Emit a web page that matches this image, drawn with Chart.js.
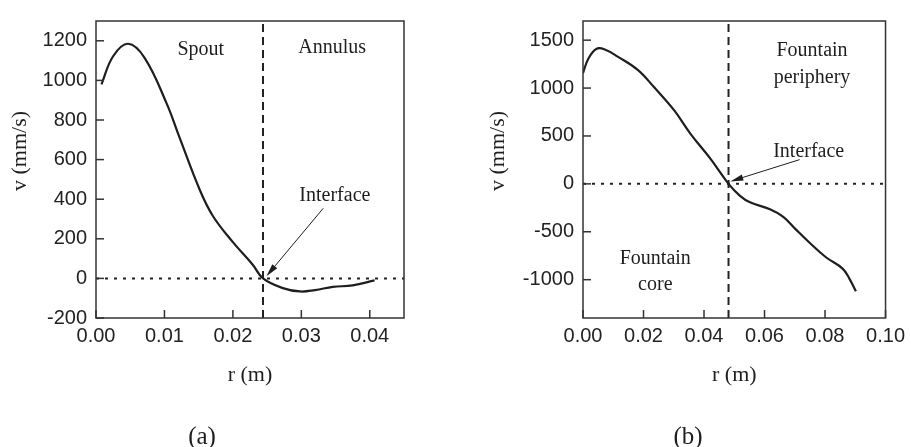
<!DOCTYPE html>
<html>
<head>
<meta charset="utf-8">
<script src="https://cdn.jsdelivr.net/npm/chart.js@4.4.1/dist/chart.umd.min.js"></script>
<style>
  body { margin: 0; background: #fff; }
  #wrap { position: relative; width: 911px; height: 447px; }
  canvas { position: absolute; top: 0; }
</style>
</head>
<body>
<div id="wrap">
  <canvas id="chartA" width="455" height="447" style="left:0"></canvas>
  <canvas id="chartB" width="456" height="447" style="left:455px"></canvas>
</div>
<script>
// (a) spout / annulus velocity profile
var rA = [0.0008, 0.0025, 0.0047, 0.0071, 0.0103, 0.0122, 0.0152, 0.0171, 0.0200,
          0.0229, 0.0244, 0.0273, 0.0298, 0.0320, 0.0346, 0.0375, 0.0407];
var vA = [980, 1122, 1185, 1114, 885, 712, 444, 314, 183,
          69, 0, -49, -66, -59, -43, -35, -10];
var interfaceA = 0.0244;
var xTicksA = [0, 0.01, 0.02, 0.03, 0.04];
var yTicksA = [-200, 0, 200, 400, 600, 800, 1000, 1200];

// (b) fountain core / periphery velocity profile
var rB = [0.0000, 0.0018, 0.0045, 0.0072, 0.0116, 0.0181, 0.0236, 0.0301, 0.0356, 0.0421,
          0.0481, 0.0519, 0.0552, 0.0618, 0.0662, 0.0705, 0.0749, 0.0803, 0.0858, 0.0880, 0.0902];
var vB = [1157, 1309, 1410, 1403, 1326, 1190, 1005, 769, 520, 263,
          0, -125, -193, -265, -344, -480, -614, -766, -884, -986, -1120];
var interfaceB = 0.0481;
var xTicksB = [0, 0.02, 0.04, 0.06, 0.08, 0.10];
var yTicksB = [-1000, -500, 0, 500, 1000, 1500];

// text labels, placed in data coordinates
var labelsA = [
  { text: 'Spout', r: 0.0153, v: 1155 },
  { text: 'Annulus', r: 0.0345, v: 1163 },
  { text: 'Interface', r: 0.0349, v: 418 }
];
var arrowA = { r0: 0.0332, v0: 354, r1: 0.0249, v1: 11 };

var labelsB = [
  { text: 'Fountain', r: 0.0757, v: 1390 },
  { text: 'periphery', r: 0.0757, v: 1106 },
  { text: 'Interface', r: 0.0746, v: 340 },
  { text: 'Fountain', r: 0.0239, v: -783 },
  { text: 'core', r: 0.0239, v: -1053 }
];
var arrowB = { r0: 0.0716, v0: 253, r1: 0.0487, v1: 26 };

var serif = '"Liberation Serif", "Times New Roman", serif';
var sans = '"Liberation Sans", Arial, sans-serif';
var ink = '#1e1e1e';

function toPoints(xs, ys) {
  return xs.map(function (x, i) { return { x: x, y: ys[i] }; });
}

var decorPlugin = {
  id: 'decor',
  afterDraw: function (chart) {
    var o = chart.options.plugins.decor;
    var ctx = chart.ctx, a = chart.chartArea;
    var xs = chart.scales.x, ys = chart.scales.y;
    ctx.save();
    ctx.strokeStyle = '#333';
    ctx.lineWidth = 1.5;
    // inward tick marks
    ys.ticks.forEach(function (t) {
      var y = ys.getPixelForValue(t.value);
      ctx.beginPath(); ctx.moveTo(a.left, y); ctx.lineTo(a.left + 8, y); ctx.stroke();
    });
    xs.ticks.forEach(function (t) {
      var x = xs.getPixelForValue(t.value);
      ctx.beginPath(); ctx.moveTo(x, a.bottom); ctx.lineTo(x, a.bottom - 8); ctx.stroke();
    });
    ctx.strokeRect(a.left, a.top, a.right - a.left, a.bottom - a.top);

    // annotations
    ctx.fillStyle = ink;
    ctx.textAlign = 'center';
    ctx.textBaseline = 'middle';
    ctx.font = '20px ' + serif;
    o.labels.forEach(function (l) {
      ctx.fillText(l.text, xs.getPixelForValue(l.r), ys.getPixelForValue(l.v));
    });

    // arrow
    var x0 = xs.getPixelForValue(o.arrow.r0), y0 = ys.getPixelForValue(o.arrow.v0);
    var x1 = xs.getPixelForValue(o.arrow.r1), y1 = ys.getPixelForValue(o.arrow.v1);
    var ang = Math.atan2(y1 - y0, x1 - x0);
    ctx.strokeStyle = ink;
    ctx.lineWidth = 1;
    ctx.beginPath(); ctx.moveTo(x0, y0);
    ctx.lineTo(x1 - 10 * Math.cos(ang), y1 - 10 * Math.sin(ang)); ctx.stroke();
    ctx.beginPath();
    ctx.moveTo(x1, y1);
    ctx.lineTo(x1 - 13 * Math.cos(ang) + 3.2 * Math.sin(ang), y1 - 13 * Math.sin(ang) - 3.2 * Math.cos(ang));
    ctx.lineTo(x1 - 13 * Math.cos(ang) - 3.2 * Math.sin(ang), y1 - 13 * Math.sin(ang) + 3.2 * Math.cos(ang));
    ctx.closePath(); ctx.fill();

    // axis titles and panel tag
    ctx.font = '22px ' + serif;
    ctx.fillText('r (m)', (a.left + a.right) / 2, 375);
    ctx.save();
    ctx.translate(a.left - o.yTitleOffset, 151);
    ctx.rotate(-Math.PI / 2);
    ctx.fillText('v (mm/s)', 0, 0);
    ctx.restore();
    ctx.font = '25px ' + serif;
    ctx.fillText(o.tag, o.tagX, 437);
    ctx.restore();
  }
};

function fixedTicks(list) {
  return function (s) { s.ticks = list.map(function (v) { return { value: v }; }); };
}

function makeChart(id, r, v, rIf, xMax, xTicks, yMin, yMax, yTicks, yWidth, padRight, deco) {
  return new Chart(document.getElementById(id), {
    type: 'line',
    data: {
      datasets: [
        {
          data: toPoints(r, v),
          borderColor: ink,
          borderWidth: 2.2,
          pointRadius: 0,
          tension: 0.4
        },
        {
          data: [{ x: rIf, y: yMin }, { x: rIf, y: yMax }],
          borderColor: '#222',
          borderWidth: 2,
          borderDash: [8, 5],
          pointRadius: 0
        },
        {
          data: [{ x: 0, y: 0 }, { x: xMax, y: 0 }],
          borderColor: '#222',
          borderWidth: 2,
          borderDash: [3, 6],
          pointRadius: 0
        }
      ]
    },
    options: {
      responsive: false,
      animation: false,
      events: [],
      devicePixelRatio: 1,
      layout: { padding: { left: 0, right: padRight, top: 11, bottom: 0 } },
      plugins: { legend: { display: false }, tooltip: { enabled: false }, decor: deco },
      scales: {
        x: {
          type: 'linear', min: 0, max: xMax,
          grid: { display: false, drawTicks: false },
          border: { display: false },
          afterBuildTicks: fixedTicks(xTicks),
          ticks: {
            padding: 6, color: '#222', font: { family: sans, size: 20 },
            callback: function (val) { return val.toFixed(2); }
          },
          afterFit: function (s) { s.height = 129; }
        },
        y: {
          type: 'linear', min: yMin, max: yMax,
          grid: { display: false, drawTicks: false },
          border: { display: false },
          afterBuildTicks: fixedTicks(yTicks),
          ticks: {
            padding: 9, color: '#222', font: { family: sans, size: 20 },
            callback: function (val) { return String(val); }
          },
          afterFit: function (s) { s.width = yWidth; }
        }
      }
    },
    plugins: [decorPlugin]
  });
}

makeChart('chartA', rA, vA, interfaceA, 0.045, xTicksA, -200, 1300, yTicksA, 96, 51,
  { labels: labelsA, arrow: arrowA, yTitleOffset: 76, tag: '(a)', tagX: 202 });
makeChart('chartB', rB, vB, interfaceB, 0.10, xTicksB, -1400, 1700, yTicksB, 128, 20,
  { labels: labelsB, arrow: arrowB, yTitleOffset: 85, tag: '(b)', tagX: 233 });
</script>
</body>
</html>
